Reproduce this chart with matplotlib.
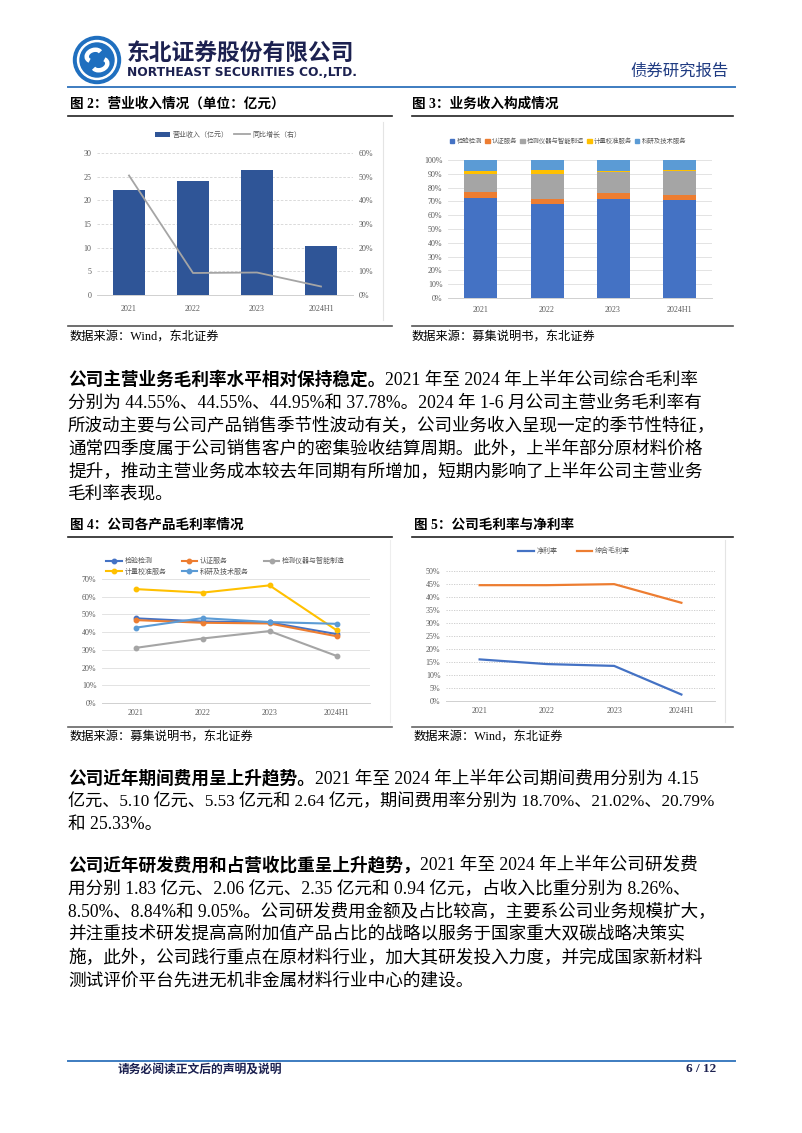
import numpy as np
import matplotlib
matplotlib.use("Agg")
import matplotlib.pyplot as plt
from matplotlib.lines import Line2D
from matplotlib.patches import Patch, Circle, Arc
from matplotlib.font_manager import FontProperties
from matplotlib.ticker import PercentFormatter

# ---- data ----
years = ["2021", "2022", "2023", "2024H1"]

revenue = [22.2, 24.1, 26.5, 10.4]          # 营业收入（亿元）
rev_growth = [0.505, 0.093, 0.095, 0.036]   # 同比增长（右）

mix_names = ["检验检测", "认证服务", "检测仪器与智能制造", "计量校准服务", "科研及技术服务"]
mix_colors = ["#4472C4", "#ED7D31", "#A5A5A5", "#FFC000", "#5B9BD5"]
mix_test = [0.724, 0.678, 0.714, 0.707]
mix_cert = [0.041, 0.042, 0.046, 0.041]
mix_inst = [0.130, 0.180, 0.155, 0.169]
mix_calib = [0.022, 0.024, 0.007, 0.007]
mix_rnd = [0.083, 0.076, 0.078, 0.076]

gm_test = [0.478, 0.460, 0.455, 0.389]
gm_cert = [0.468, 0.453, 0.449, 0.377]
gm_inst = [0.311, 0.364, 0.406, 0.266]
gm_calib = [0.643, 0.623, 0.664, 0.411]
gm_rnd = [0.425, 0.479, 0.457, 0.447]

net_margin = [0.160, 0.142, 0.135, 0.025]
gross_margin = [0.4455, 0.4455, 0.4495, 0.3778]

W, H = 802, 1133
fig = plt.figure(figsize=(8.02, 11.33), dpi=100)
renderer = fig.canvas.get_renderer()

NAVY = "#1c2150"
BLUE_LINE = "#3d7cc0"
TICK = "#595959"
SERIF = ["Liberation Serif", "Noto Sans CJK SC"]
CJK = ["Noto Sans CJK SC", "DejaVu Sans"]


def fx(x):
    return x / W


def fy(y):
    return 1 - y / H


def box(x0, y0, x1, y1):
    return fig.add_axes([x0 / W, 1 - y1 / H, (x1 - x0) / W, (y1 - y0) / H])


def hline(x0, x1, y, color, lw):
    fig.add_artist(Line2D([fx(x0), fx(x1)], [fy(y), fy(y)], color=color, lw=lw,
                          transform=fig.transFigure))


def vline(x, y0, y1, color, lw):
    fig.add_artist(Line2D([fx(x), fx(x)], [fy(y0), fy(y1)], color=color, lw=lw,
                          transform=fig.transFigure))


def put(x, y, s, **kw):
    kw.setdefault("va", "center")
    return fig.text(fx(x), fy(y), s, **kw)


def fit(x0, x1, y, s, **kw):
    t = put(x0, y, s, **kw)
    w = t.get_window_extent(renderer).width
    t.set_fontsize(t.get_fontsize() * (x1 - x0) / w)
    return t


# ---- header ----
logo = box(70, 34, 124, 88)
logo.set_xlim(0, 54)
logo.set_ylim(54, 0)
logo.set_aspect("equal")
logo.axis("off")
logo.add_patch(Circle((27, 26), 23.5, color="#1f6fbf"))
logo.add_patch(Circle((27, 26), 19.5, color="white"))
logo.add_patch(Circle((27, 26), 17, color="#1f6fbf"))
logo.add_patch(Arc((24, 21.5), 15, 11, angle=-20, theta1=150, theta2=350, color="white", lw=3.2))
logo.add_patch(Arc((30, 30.5), 15, 11, angle=-20, theta1=-30, theta2=170, color="white", lw=3.2))

fit(127, 355, 53, "东北证券股份有限公司", family=CJK, weight="heavy", color=NAVY, fontsize=16)
fit(127, 357, 72, "NORTHEAST SECURITIES CO.,LTD.", family="DejaVu Sans", weight="bold",
    color=NAVY, fontsize=9)
fit(630, 728, 71, "债券研究报告", family=CJK, color="#1f3b82", fontsize=12)
hline(68, 735, 87, BLUE_LINE, 1.4)

# ---- chart titles / sources ----
title_kw = dict(family=SERIF, weight="bold", fontsize=9.8, color="black")
src_kw = dict(family=SERIF, fontsize=8.8, color="black")

put(70, 104, "图 2：营业收入情况（单位：亿元）", **title_kw)
put(412, 104, "图 3：业务收入构成情况", **title_kw)
hline(68, 392, 116, "#222222", 1.2)
hline(412, 733, 116, "#222222", 1.2)
hline(68, 392, 326, "#555555", 1.2)
hline(412, 733, 326, "#555555", 1.2)
put(70, 338, "数据来源：Wind，东北证券", **src_kw)
put(412, 338, "数据来源：募集说明书，东北证券", **src_kw)

put(70, 525, "图 4：公司各产品毛利率情况", **title_kw)
put(414, 525, "图 5：公司毛利率与净利率", **title_kw)
hline(68, 392, 537, "#222222", 1.2)
hline(412, 733, 537, "#222222", 1.2)
hline(68, 392, 727, "#666666", 1.2)
hline(412, 733, 727, "#666666", 1.2)
put(70, 738, "数据来源：募集说明书，东北证券", **src_kw)
put(414, 738, "数据来源：Wind，东北证券", **src_kw)

vline(383, 122, 320, "#e4e4e4", 0.8)
vline(390, 540, 722, "#eeeeee", 0.8)
vline(725, 540, 722, "#e4e4e4", 0.8)

leg_font = FontProperties(family=CJK, size=5)
x = np.arange(len(years))


def style(ax, ylim, step, pct):
    ax.set_xlim(-0.5, len(years) - 0.5)
    ax.set_ylim(*ylim)
    ax.set_yticks(np.arange(ylim[0], ylim[1] + step / 2, step))
    ax.set_xticks(x)
    ax.set_xticklabels(years)
    for s in ["top", "right", "left"]:
        ax.spines[s].set_visible(False)
    ax.spines["bottom"].set_color("#d0d0d0")
    ax.spines["bottom"].set_linewidth(0.7)
    ax.tick_params(length=0, labelsize=5.8, colors=TICK, pad=4)
    for lab in ax.get_xticklabels() + ax.get_yticklabels():
        lab.set_family(SERIF)
    if pct:
        ax.yaxis.set_major_formatter(PercentFormatter(1.0, decimals=0))
    ax.set_axisbelow(True)


# ---- chart 2 ----
ax2 = box(97, 153, 353, 295)
bars = ax2.bar(x, revenue, width=0.5, color="#2F5597", zorder=3)
style(ax2, (0, 30), 5, False)
ax2.grid(axis="y", ls=(0, (3, 2)), color="#d4d4d4", lw=0.6)
ax2.tick_params(axis="x", pad=7)
ax2r = ax2.twinx()
ln, = ax2r.plot(x, rev_growth, color="#A5A5A5", lw=1.3)
ax2r.set_ylim(0, 0.6)
ax2r.set_yticks(np.arange(0, 0.61, 0.1))
ax2r.yaxis.set_major_formatter(PercentFormatter(1.0, decimals=0))
for s in ax2r.spines.values():
    s.set_visible(False)
ax2r.tick_params(length=0, labelsize=5.8, colors=TICK, pad=4)
for lab in ax2r.get_yticklabels():
    lab.set_family(SERIF)
ax2.legend([bars, ln], ["营业收入（亿元）", "同比增长（右）"], loc="center", ncol=2,
           bbox_to_anchor=(fx(228), fy(135)), bbox_transform=fig.transFigure,
           frameon=False, prop=leg_font, handlelength=2.2, handleheight=0.9,
           columnspacing=0.8, handletextpad=0.4, labelcolor=TICK)

# ---- chart 3 ----
ax3 = box(448, 160, 712, 298)
bottom = np.zeros(len(years))
for vals, col in zip([mix_test, mix_cert, mix_inst, mix_calib, mix_rnd], mix_colors):
    ax3.bar(x, vals, width=0.5, bottom=bottom, color=col, zorder=3)
    bottom = bottom + np.array(vals)
style(ax3, (0, 1.0), 0.1, True)
ax3.grid(axis="y", color="#dedede", lw=0.6)
ax3.tick_params(axis="x", pad=6)
ax3.legend([Patch(color=c) for c in mix_colors], mix_names, loc="center", ncol=5,
           bbox_to_anchor=(fx(568), fy(141)), bbox_transform=fig.transFigure,
           frameon=False, prop=FontProperties(family=CJK, size=4.6),
           handlelength=0.7, handleheight=0.7,
           columnspacing=0.5, handletextpad=0.3, labelcolor=TICK)

# ---- chart 4 ----
ax4 = box(102, 579, 370, 703)
hs = []
for vals, col in zip([gm_test, gm_cert, gm_inst, gm_calib, gm_rnd], mix_colors):
    h, = ax4.plot(x, vals, color=col, lw=1.5, marker="o", ms=3.2, zorder=3)
    hs.append(h)
style(ax4, (0, 0.7), 0.1, True)
ax4.grid(axis="y", color="#dedede", lw=0.6)
order = [0, 3, 1, 4, 2]
ax4.legend([hs[i] for i in order], [mix_names[i] for i in order], loc="upper left", ncol=3,
           bbox_to_anchor=(fx(100), fy(551)), bbox_transform=fig.transFigure,
           frameon=False, prop=leg_font, handlelength=2.2, columnspacing=2.2,
           handletextpad=0.4, labelspacing=0.35, labelcolor=TICK)

# ---- chart 5 ----
ax5 = box(446, 571, 715, 701)
h1, = ax5.plot(x, net_margin, color="#4472C4", lw=1.6)
h2, = ax5.plot(x, gross_margin, color="#ED7D31", lw=1.6)
style(ax5, (0, 0.5), 0.05, True)
ax5.grid(axis="y", ls=(0, (1.5, 1.5)), color="#c8c8c8", lw=0.6)
ax5.legend([h1, h2], ["净利率", "综合毛利率"], loc="center", ncol=2,
           bbox_to_anchor=(fx(574), fy(551)), bbox_transform=fig.transFigure,
           frameon=False, prop=leg_font, handlelength=2.2, columnspacing=2.8,
           handletextpad=0.4, labelcolor=TICK)

# ---- body text ----
BODY = 12.7
RIGHT = 716
body_kw = dict(family=SERIF, fontsize=BODY, color="black")
bold_kw = dict(family=SERIF, fontsize=BODY, color="black", weight="bold")


def para(y0, lead, lines, step=23):
    y = y0
    first = True
    for line in lines:
        xs = 68
        if first and lead:
            t = put(xs, y, lead, **bold_kw)
            xs = xs + t.get_window_extent(renderer).width
        t = put(xs, y, line, **body_kw)
        w = t.get_window_extent(renderer).width
        if xs + w > RIGHT:   # squeeze lines that run past the margin
            t.set_fontsize(BODY * (RIGHT - xs) / w)
        first = False
        y += step


para(380, "公司主营业务毛利率水平相对保持稳定。", [
    "2021 年至 2024 年上半年公司综合毛利率",
    "分别为 44.55%、44.55%、44.95%和 37.78%。2024 年 1-6 月公司主营业务毛利率有",
    "所波动主要与公司产品销售季节性波动有关，公司业务收入呈现一定的季节性特征，",
    "通常四季度属于公司销售客户的密集验收结算周期。此外，上半年部分原材料价格",
    "提升，推动主营业务成本较去年同期有所增加，短期内影响了上半年公司主营业务",
    "毛利率表现。",
])

para(779, "公司近年期间费用呈上升趋势。", [
    "2021 年至 2024 年上半年公司期间费用分别为 4.15",
    "亿元、5.10 亿元、5.53 亿元和 2.64 亿元，期间费用率分别为 18.70%、21.02%、20.79%",
    "和 25.33%。",
])

para(866, "公司近年研发费用和占营收比重呈上升趋势，", [
    "2021 年至 2024 年上半年公司研发费",
    "用分别 1.83 亿元、2.06 亿元、2.35 亿元和 0.94 亿元，占收入比重分别为 8.26%、",
    "8.50%、8.84%和 9.05%。公司研发费用金额及占比较高，主要系公司业务规模扩大，",
    "并注重技术研发提高高附加值产品占比的战略以服务于国家重大双碳战略决策实",
    "施，此外，公司践行重点在原材料行业，加大其研发投入力度，并完成国家新材料",
    "测试评价平台先进无机非金属材料行业中心的建设。",
])

# ---- footer ----
hline(68, 735, 1061, BLUE_LINE, 1.4)
put(118, 1069, "请务必阅读正文后的声明及说明", family=CJK, weight="bold", fontsize=8.5, color=NAVY)
put(716, 1069, "6 / 12", family=SERIF, weight="bold", fontsize=9.5, color=NAVY, ha="right")

fig.savefig("out.png", dpi=100)
